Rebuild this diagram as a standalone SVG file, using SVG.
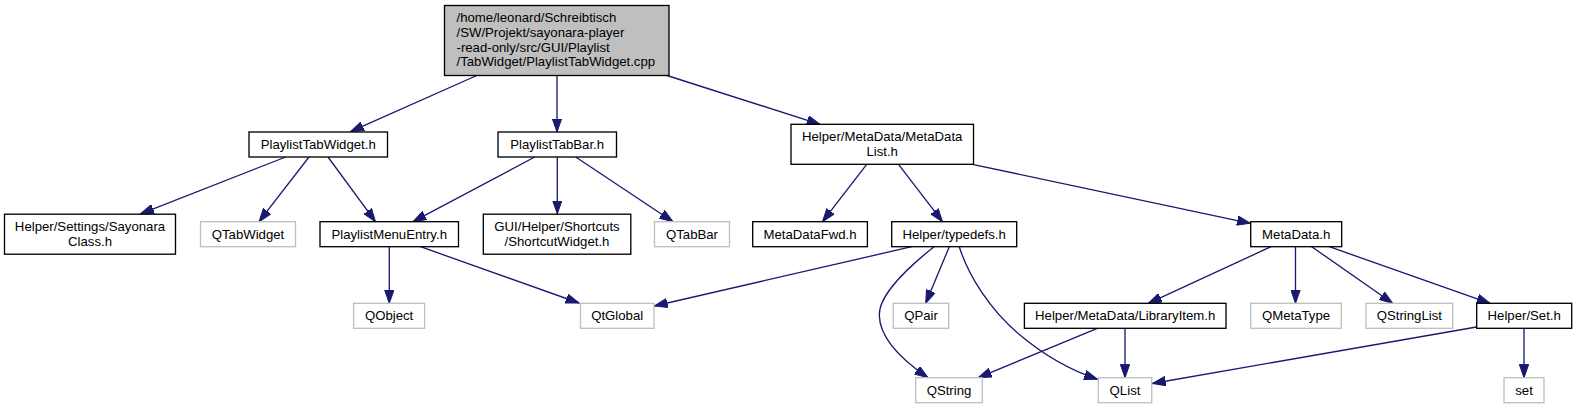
<svg xmlns="http://www.w3.org/2000/svg" width="1577" height="409" viewBox="0 0 1577 409">
<style>
text{font-family:"Liberation Sans",Arial,sans-serif;font-size:13.2px;fill:#000;text-anchor:middle}
.n rect{fill:#fff;stroke:#000;stroke-width:1.33}
.x rect{fill:#fff;stroke:#bfbfbf;stroke-width:1.33}
.m rect{fill:#bfbfbf;stroke:#000;stroke-width:1.33}
.m text{text-anchor:start}
#edges path{fill:none;stroke:#191970;stroke-width:1.33;marker-end:url(#ah)}
</style>
<defs>
<marker id="ah" markerUnits="userSpaceOnUse" viewBox="0 0 14 10" markerWidth="14" markerHeight="10" refX="13.3" refY="5" orient="auto">
<path d="M0,0.3 L13.3,5 L0,9.7 Z" fill="#191970" stroke="#191970" stroke-width="1"/>
</marker>
</defs>
<rect width="1577" height="409" fill="#fff"/>
<g id="edges">
<path d="M476.8,75.5 L350.5,131.7"/>
<path d="M557,75.5 L557,132"/>
<path d="M667,75.5 L820,124.3"/>
<path d="M285.7,157 L140.6,213.8"/>
<path d="M309,157 L259,221.7"/>
<path d="M328,157 L375.5,221.7"/>
<path d="M534.7,157 L413,221.7"/>
<path d="M557.3,157 L557.3,213.8"/>
<path d="M575.7,157 L673,221.7"/>
<path d="M389.3,246.7 L389.3,303.3"/>
<path d="M420.5,246.7 L579,303"/>
<path d="M866.7,164.3 L822.5,221.7"/>
<path d="M898.5,164.3 L942.5,221.7"/>
<path d="M972.4,164.3 L1250.3,223.3"/>
<path d="M911.7,246.7 L654.3,306"/>
<path d="M934,246.7 C905,270 879,295 879.3,315 C879.5,340 905,362 928,377.7"/>
<path d="M949.3,246.7 L925.7,303.3"/>
<path d="M959.3,246.7 C968,275 990,310 1020,335 C1045,356 1070,370 1097.5,379.3"/>
<path d="M1271,246.7 L1148.3,303.3"/>
<path d="M1295.5,246.7 L1295.5,303.3"/>
<path d="M1311.7,246.7 L1392.7,303.3"/>
<path d="M1329.3,246.7 L1490,303.3"/>
<path d="M1097.3,328.3 L978.3,377.7"/>
<path d="M1125,328.3 L1125,377.7"/>
<path d="M1476.5,327 L1152.3,383.5"/>
<path d="M1524,328.3 L1524,377.7"/>
</g>
<g id="node_main" class="m">
<rect x="444.5" y="5.5" width="224.5" height="70"/>
<text x="456.5" y="22.3">/home/leonard/Schreibtisch</text>
<text x="456.5" y="37">/SW/Projekt/sayonara-player</text>
<text x="456.5" y="51.7">-read-only/src/GUI/Playlist</text>
<text x="456.5" y="66.4">/TabWidget/PlaylistTabWidget.cpp</text>
</g>
<g id="node_PlaylistTabWidget" class="n">
<rect x="249" y="132" width="138.5" height="25"/>
<text x="318.2" y="149">PlaylistTabWidget.h</text>
</g>
<g id="node_PlaylistTabBar" class="n">
<rect x="498" y="132" width="118.5" height="25"/>
<text x="557.2" y="149">PlaylistTabBar.h</text>
</g>
<g id="node_MetaDataList" class="n">
<rect x="791" y="124.3" width="182.5" height="40"/>
<text x="882.2" y="141.4">Helper/MetaData/MetaData</text>
<text x="882.2" y="156">List.h</text>
</g>
<g id="node_SayonaraClass" class="n">
<rect x="4.5" y="214.2" width="171" height="40"/>
<text x="90" y="231.3">Helper/Settings/Sayonara</text>
<text x="90" y="245.9">Class.h</text>
</g>
<g id="node_QTabWidget" class="x">
<rect x="200.5" y="221.7" width="95" height="25"/>
<text x="248" y="238.7">QTabWidget</text>
</g>
<g id="node_PlaylistMenuEntry" class="n">
<rect x="320" y="221.7" width="138.5" height="25"/>
<text x="389.2" y="238.7">PlaylistMenuEntry.h</text>
</g>
<g id="node_ShortcutWidget" class="n">
<rect x="483.3" y="214.2" width="147.5" height="40"/>
<text x="557" y="231.3">GUI/Helper/Shortcuts</text>
<text x="557" y="245.9">/ShortcutWidget.h</text>
</g>
<g id="node_QTabBar" class="x">
<rect x="654.5" y="221.7" width="75" height="25"/>
<text x="692" y="238.7">QTabBar</text>
</g>
<g id="node_MetaDataFwd" class="n">
<rect x="752.7" y="221.7" width="114.7" height="25"/>
<text x="810" y="238.7">MetaDataFwd.h</text>
</g>
<g id="node_typedefs" class="n">
<rect x="891.7" y="221.7" width="125" height="25"/>
<text x="954.2" y="238.7">Helper/typedefs.h</text>
</g>
<g id="node_MetaData" class="n">
<rect x="1250.7" y="221.7" width="91" height="25"/>
<text x="1296.2" y="238.7">MetaData.h</text>
</g>
<g id="node_QObject" class="x">
<rect x="353.6" y="303.3" width="71" height="25"/>
<text x="389.1" y="320.3">QObject</text>
</g>
<g id="node_QtGlobal" class="x">
<rect x="580.5" y="303.3" width="73.5" height="25"/>
<text x="617.2" y="320.3">QtGlobal</text>
</g>
<g id="node_QPair" class="x">
<rect x="893.3" y="303.3" width="55.4" height="25"/>
<text x="921" y="320.3">QPair</text>
</g>
<g id="node_LibraryItem" class="n">
<rect x="1024.4" y="303.3" width="201.6" height="25"/>
<text x="1125.2" y="320.3">Helper/MetaData/LibraryItem.h</text>
</g>
<g id="node_QMetaType" class="x">
<rect x="1250.7" y="303.3" width="90.6" height="25"/>
<text x="1296" y="320.3">QMetaType</text>
</g>
<g id="node_QStringList" class="x">
<rect x="1366" y="303.3" width="86.7" height="25"/>
<text x="1409.3" y="320.3">QStringList</text>
</g>
<g id="node_Set" class="n">
<rect x="1476.7" y="303.3" width="95" height="25"/>
<text x="1524.2" y="320.3">Helper/Set.h</text>
</g>
<g id="node_QString" class="x">
<rect x="915.7" y="377.7" width="66.6" height="25"/>
<text x="949" y="394.7">QString</text>
</g>
<g id="node_QList" class="x">
<rect x="1098.3" y="377.7" width="53.4" height="25"/>
<text x="1125" y="394.7">QList</text>
</g>
<g id="node_set" class="x">
<rect x="1504" y="377.7" width="40" height="25"/>
<text x="1524" y="394.7">set</text>
</g>
</svg>
